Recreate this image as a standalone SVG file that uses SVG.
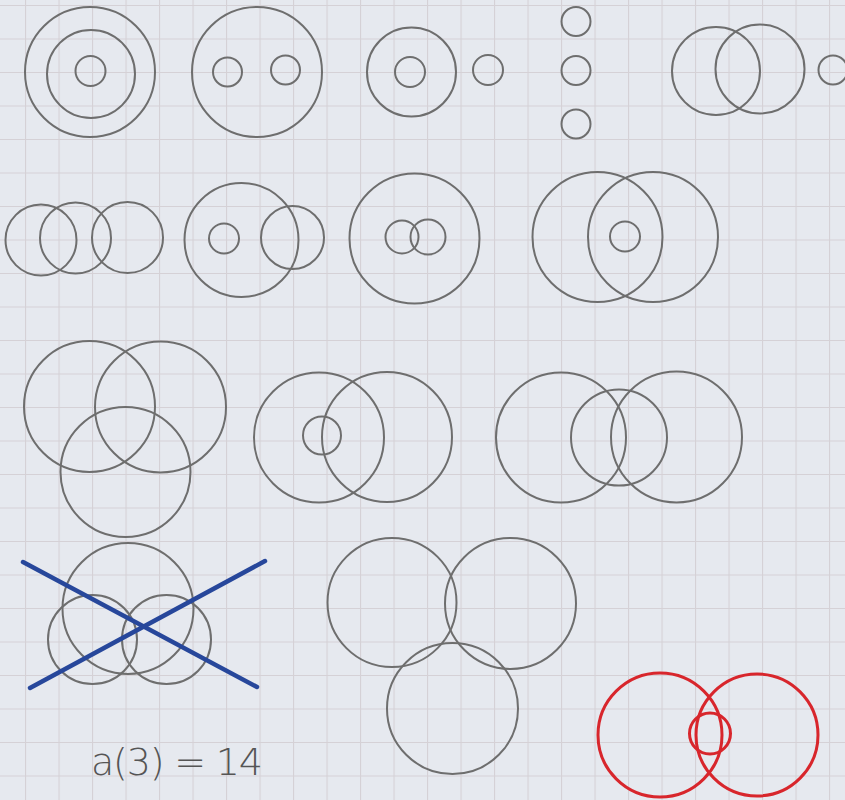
<svg xmlns="http://www.w3.org/2000/svg" width="845" height="800" viewBox="0 0 845 800">
<defs>
<pattern id="grid" x="25" y="5" width="33.5" height="33.5" patternUnits="userSpaceOnUse">
<rect width="33.5" height="33.5" fill="#e6e9ef"/>
<path d="M0 0 H33.5 M0 0 V33.5" stroke="#d5d1d6" stroke-width="2.2" fill="none"/>
</pattern>
</defs>
<style>
.c{fill:none;stroke:#6e6e6e;stroke-width:2}
.r{fill:none;stroke:#d8262c;stroke-width:3}
.x{stroke:#27479b;stroke-width:4.5;stroke-linecap:round}
.t{font-family:"DejaVu Sans","Liberation Sans",sans-serif;font-size:38px;fill:#555555;font-weight:300}
</style>
<rect width="845" height="800" fill="url(#grid)"/>
<g id="f1">
<circle class="c" cx="90" cy="72" r="65"/>
<circle class="c" cx="91" cy="74" r="44"/>
<circle class="c" cx="90.5" cy="71" r="15"/>
</g>
<g id="f2">
<circle class="c" cx="257" cy="72" r="65"/>
<circle class="c" cx="227.5" cy="72" r="14.5"/>
<circle class="c" cx="285.5" cy="70" r="14.5"/>
</g>
<g id="f3">
<circle class="c" cx="411.5" cy="72" r="44.5"/>
<circle class="c" cx="410" cy="72" r="15"/>
<circle class="c" cx="488" cy="70" r="15"/>
</g>
<g id="f4">
<circle class="c" cx="576" cy="21.5" r="14.5"/>
<circle class="c" cx="576" cy="70.5" r="14.5"/>
<circle class="c" cx="576" cy="124" r="14.5"/>
</g>
<g id="f5">
<circle class="c" cx="716" cy="71" r="44"/>
<circle class="c" cx="760" cy="69" r="44.5"/>
<circle class="c" cx="833" cy="70" r="14.5"/>
</g>
<g id="f6">
<circle class="c" cx="41" cy="240" r="35.5"/>
<circle class="c" cx="75.5" cy="238" r="35.5"/>
<circle class="c" cx="127.5" cy="237.5" r="35.5"/>
</g>
<g id="f7">
<circle class="c" cx="241.5" cy="240" r="57"/>
<circle class="c" cx="224" cy="238.5" r="15"/>
<circle class="c" cx="292.5" cy="237.5" r="31.5"/>
</g>
<g id="f8">
<circle class="c" cx="414.5" cy="238.5" r="65"/>
<circle class="c" cx="402" cy="237" r="16.5"/>
<circle class="c" cx="428" cy="237" r="17.5"/>
</g>
<g id="f9">
<circle class="c" cx="597.5" cy="237" r="65"/>
<circle class="c" cx="653" cy="237" r="65"/>
<circle class="c" cx="625" cy="236.5" r="15"/>
</g>
<g id="f10">
<circle class="c" cx="89.5" cy="406.5" r="65.5"/>
<circle class="c" cx="160.5" cy="407" r="65.5"/>
<circle class="c" cx="125.5" cy="472" r="65"/>
</g>
<g id="f11">
<circle class="c" cx="319" cy="437.5" r="65"/>
<circle class="c" cx="387" cy="437" r="65"/>
<circle class="c" cx="322" cy="435.5" r="19"/>
</g>
<g id="f12">
<circle class="c" cx="561" cy="437.5" r="65"/>
<circle class="c" cx="619" cy="437.5" r="48"/>
<circle class="c" cx="676.5" cy="437" r="65.5"/>
</g>
<g id="f13">
<circle class="c" cx="128" cy="608.5" r="65.5"/>
<circle class="c" cx="92.5" cy="639.5" r="44.5"/>
<circle class="c" cx="166.5" cy="639.5" r="44.5"/>
<line class="x" x1="23" y1="562" x2="257" y2="687"/>
<line class="x" x1="30" y1="688" x2="265" y2="561"/>
</g>
<g id="f14">
<circle class="c" cx="392" cy="602.5" r="64.5"/>
<circle class="c" cx="510.5" cy="603.5" r="65.5"/>
<circle class="c" cx="452.5" cy="708.5" r="65.5"/>
</g>
<g id="f15">
<circle class="r" cx="660" cy="735" r="62"/>
<circle class="r" cx="757" cy="735" r="61"/>
<circle class="r" cx="710" cy="733.5" r="20.5"/>
</g>
<text class="t" x="91" y="775" textLength="172" lengthAdjust="spacing">a(3) = 14</text>
</svg>
